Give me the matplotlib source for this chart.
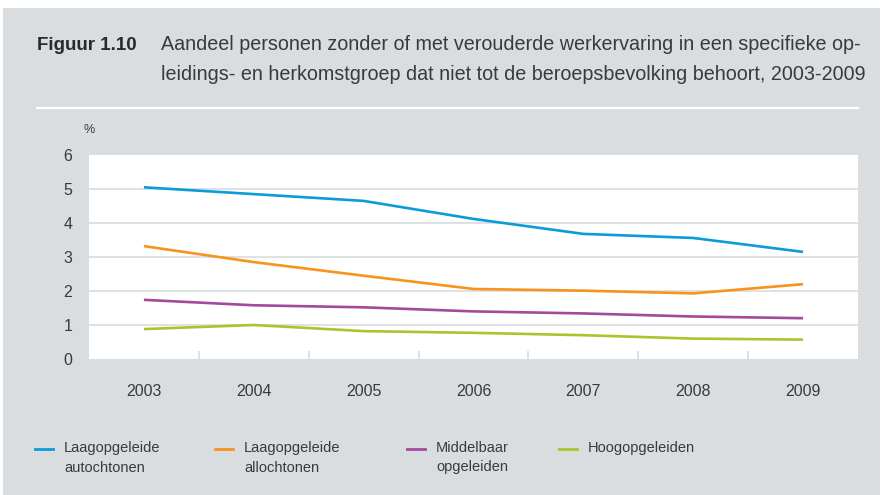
import numpy as np
import matplotlib.pyplot as plt
from matplotlib.lines import Line2D

plt.rcParams['font.family'] = ['Liberation Sans', 'DejaVu Sans']

# --- Data ---
years = ['2003', '2004', '2005', '2006', '2007', '2008', '2009']
laag_autochtoon = [5.05, 4.85, 4.65, 4.12, 3.68, 3.56, 3.15]
laag_allochtoon = [3.32, 2.85, 2.45, 2.06, 2.01, 1.93, 2.20]
middelbaar = [1.74, 1.58, 1.52, 1.40, 1.34, 1.25, 1.20]
hoog = [0.88, 1.00, 0.82, 0.77, 0.70, 0.60, 0.57]

series = [laag_autochtoon, laag_allochtoon, middelbaar, hoog]
labels = ['Laagopgeleide\nautochtonen', 'Laagopgeleide\nallochtonen',
          'Middelbaar\nopgeleiden', 'Hoogopgeleiden']
colors = ['#0b9bd9', '#f7931e', '#a4499c', '#a6c62c']

bg = '#d9dde0'
txt = '#3a3a3a'
W, H = 883, 495

fig = plt.figure(figsize=(W / 100, H / 100), dpi=100)
fig.patch.set_facecolor('white')
# grey panel
fig.patches.append(plt.Rectangle((3 / W, 0), (W - 6) / W, (H - 8) / H,
                                 transform=fig.transFigure, facecolor=bg,
                                 edgecolor='none', zorder=-10))

# title block
fig.text(37 / W, 1 - 45 / H, 'Figuur 1.10', fontsize=13.5, fontweight='bold',
         color='#2a2a2a', va='center')
fig.text(161 / W, 1 - 45 / H,
         'Aandeel personen zonder of met verouderde werkervaring in een specifieke op-',
         fontsize=14.2, color=txt, va='center')
fig.text(161 / W, 1 - 75 / H,
         'leidings- en herkomstgroep dat niet tot de beroepsbevolking behoort, 2003-2009',
         fontsize=14.2, color=txt, va='center')
fig.add_artist(Line2D([37 / W, 858 / W], [1 - 108 / H, 1 - 108 / H],
                      transform=fig.transFigure, color='white', lw=1.6))

# plot area
ax = fig.add_axes([89 / W, (H - 359) / H, 769 / W, 204 / H])
ax.set_facecolor('white')
x = np.arange(len(years))
for vals, c in zip(series, colors):
    ax.plot(x, vals, color=c, lw=1.9, solid_capstyle='butt', zorder=3)

ax.set_xlim(-0.5, len(years) - 0.5)
ax.set_ylim(0, 6)
ax.set_yticks(range(0, 7))
for v in range(1, 6):
    ax.axhline(v, color='#dcdfe2', lw=1.3, zorder=1)
ax.set_xticks(x)
ax.set_xticklabels(years)
ax.set_xticks(np.arange(0.5, len(years) - 1, 1), minor=True)
ax.tick_params(axis='x', which='major', length=0, pad=18, labelsize=11.5,
               labelcolor=txt)
ax.tick_params(axis='x', which='minor', direction='in', length=6,
               color='#d9dcdf', width=1.2)
ax.tick_params(axis='y', length=0, pad=12, labelsize=11.5, labelcolor=txt)
for s in ax.spines.values():
    s.set_visible(False)

fig.text(84 / W, 1 - 130 / H, '%', fontsize=9, color=txt, va='center')

# legend
leg_x = [35, 215, 407, 559]
for lx, lab, c in zip(leg_x, labels, colors):
    fig.add_artist(Line2D([lx / W, (lx + 18) / W], [1 - 449 / H, 1 - 449 / H],
                          transform=fig.transFigure, color=c, lw=2))
    fig.text((lx + 29) / W, 1 - 441 / H, lab, fontsize=10.5, color=txt,
             va='top', linespacing=1.5)

fig.savefig('out.png', dpi=100, facecolor=fig.get_facecolor())
